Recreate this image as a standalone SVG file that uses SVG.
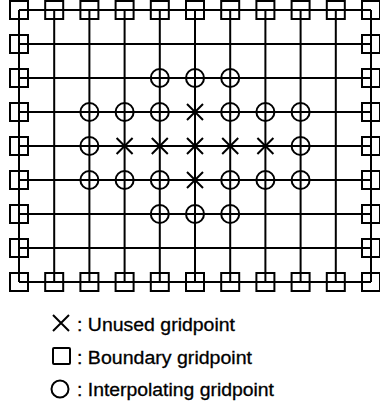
<svg xmlns="http://www.w3.org/2000/svg" width="380" height="404" viewBox="0 0 380 404">
<style>
.ln{stroke:#000;stroke-width:2;fill:none}
.sym{stroke:#000;stroke-width:2;fill:none}
.lg{font-family:"Liberation Sans",Arial,sans-serif;font-size:18px;fill:#000;stroke:#000;stroke-width:0.3}
</style>
<defs>
<rect id="sq" x="-9" y="-9" width="18" height="18" class="sym"/>
<circle id="ci" r="9" class="sym"/>
<path id="xx" d="M-8,-8L8,8M-8,8L8,-8" class="sym" stroke-width="2.4"/>
</defs>
<rect width="380" height="404" fill="#fff"/>
<g id="connectors" class="ln">
<path d="M19,10H371M19,44H371M19,78H371M19,112H371M19,146H371M19,180H371M19,214H371M19,248H371M19,282H371"/>
<path d="M19,10V282M54.2,10V282M89.4,10V282M124.6,10V282M159.8,10V282M195,10V282M230.2,10V282M265.4,10V282M300.6,10V282M335.8,10V282M371,10V282"/>
</g>
<g id="boundary">
<g id="b-top"><use href="#sq" x="19" y="10"/><use href="#sq" x="54.2" y="10"/><use href="#sq" x="89.4" y="10"/><use href="#sq" x="124.6" y="10"/><use href="#sq" x="159.8" y="10"/><use href="#sq" x="195" y="10"/><use href="#sq" x="230.2" y="10"/><use href="#sq" x="265.4" y="10"/><use href="#sq" x="300.6" y="10"/><use href="#sq" x="335.8" y="10"/><use href="#sq" x="371" y="10"/></g>
<g id="b-bottom"><use href="#sq" x="19" y="282"/><use href="#sq" x="54.2" y="282"/><use href="#sq" x="89.4" y="282"/><use href="#sq" x="124.6" y="282"/><use href="#sq" x="159.8" y="282"/><use href="#sq" x="195" y="282"/><use href="#sq" x="230.2" y="282"/><use href="#sq" x="265.4" y="282"/><use href="#sq" x="300.6" y="282"/><use href="#sq" x="335.8" y="282"/><use href="#sq" x="371" y="282"/></g>
<g id="b-left"><use href="#sq" x="19" y="44"/><use href="#sq" x="19" y="78"/><use href="#sq" x="19" y="112"/><use href="#sq" x="19" y="146"/><use href="#sq" x="19" y="180"/><use href="#sq" x="19" y="214"/><use href="#sq" x="19" y="248"/></g>
<g id="b-right"><use href="#sq" x="371" y="44"/><use href="#sq" x="371" y="78"/><use href="#sq" x="371" y="112"/><use href="#sq" x="371" y="146"/><use href="#sq" x="371" y="180"/><use href="#sq" x="371" y="214"/><use href="#sq" x="371" y="248"/></g>
</g>
<g id="interp">
<g id="i-r2"><use href="#ci" x="159.8" y="78"/><use href="#ci" x="195" y="78"/><use href="#ci" x="230.2" y="78"/></g>
<g id="i-r3"><use href="#ci" x="89.4" y="112"/><use href="#ci" x="124.6" y="112"/><use href="#ci" x="159.8" y="112"/><use href="#ci" x="230.2" y="112"/><use href="#ci" x="265.4" y="112"/><use href="#ci" x="300.6" y="112"/></g>
<g id="i-r4"><use href="#ci" x="89.4" y="146"/><use href="#ci" x="300.6" y="146"/></g>
<g id="i-r5"><use href="#ci" x="89.4" y="180"/><use href="#ci" x="124.6" y="180"/><use href="#ci" x="159.8" y="180"/><use href="#ci" x="230.2" y="180"/><use href="#ci" x="265.4" y="180"/><use href="#ci" x="300.6" y="180"/></g>
<g id="i-r6"><use href="#ci" x="159.8" y="214"/><use href="#ci" x="195" y="214"/><use href="#ci" x="230.2" y="214"/></g>
</g>
<g id="unused">
<use href="#xx" x="195" y="112"/>
<use href="#xx" x="124.6" y="146"/><use href="#xx" x="159.8" y="146"/><use href="#xx" x="195" y="146"/><use href="#xx" x="230.2" y="146"/><use href="#xx" x="265.4" y="146"/>
<use href="#xx" x="195" y="180"/>
</g>
<g id="legend">
<g id="lg-unused"><path d="M53,315L69,331M53,331L69,315" stroke="#000" stroke-width="2" fill="none"/><text class="lg" x="77" y="331" textLength="158" lengthAdjust="spacingAndGlyphs">: Unused gridpoint</text></g>
<g id="lg-boundary"><rect x="53" y="348" width="17" height="16" rx="1" stroke="#000" stroke-width="2" fill="none"/><text class="lg" x="77" y="364" textLength="175" lengthAdjust="spacingAndGlyphs">: Boundary gridpoint</text></g>
<g id="lg-interp"><circle cx="60" cy="389" r="8.5" stroke="#000" stroke-width="2" fill="none"/><text class="lg" x="77" y="396" textLength="197" lengthAdjust="spacingAndGlyphs">: Interpolating gridpoint</text></g>
</g>
</svg>
